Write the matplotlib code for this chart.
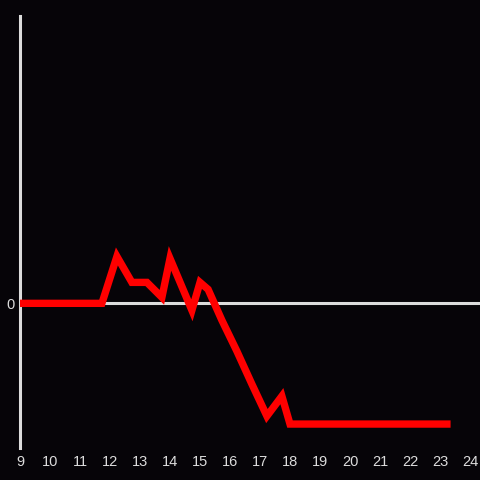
import matplotlib.pyplot as plt

# hour of day vs value
hours = [9.0, 11.73, 12.23, 12.73, 13.23, 13.73, 14.0, 14.73, 15.0, 15.27,
         15.73, 16.23, 16.73, 17.23, 17.73, 18.0, 23.23]
values = [0.0, 0.0, 4.7, 2.1, 2.1, 0.6, 4.5, -0.7, 2.1, 1.4,
          -1.7, -4.8, -8.1, -11.3, -9.3, -12.1, -12.1]
xticks = list(range(9, 25))

bg = '#060408'
fg = '#dcdcdc'

fig = plt.figure(figsize=(4.8, 4.8), dpi=100, facecolor=bg)
ax = fig.add_axes([20 / 480, 32 / 480, 460 / 480, 432 / 480], facecolor=bg)

ax.axhline(0, color=fg, linewidth=2.2, zorder=1)
ax.plot(hours, values, color='#ff0000', linewidth=5.3,
        solid_capstyle='projecting', solid_joinstyle='miter', zorder=3)

ax.set_xlim(9, 9 + 460 / 30)
ax.set_ylim(-14.5, 28.8)

ax.set_xticks(xticks)
ax.set_xticklabels([str(t) for t in xticks])
ax.set_yticks([0])
ax.set_yticklabels(['0'])
ax.tick_params(length=0, colors=fg, labelsize=10.5)
ax.tick_params(axis='x', pad=5)
ax.tick_params(axis='y', pad=4)
for lab in ax.get_xticklabels() + ax.get_yticklabels():
    lab.set_fontfamily('Liberation Sans')

for side in ['top', 'right', 'bottom']:
    ax.spines[side].set_visible(False)
ax.spines['left'].set_color(fg)
ax.spines['left'].set_linewidth(2.2)

fig.savefig('out.png', dpi=100, facecolor=bg)
